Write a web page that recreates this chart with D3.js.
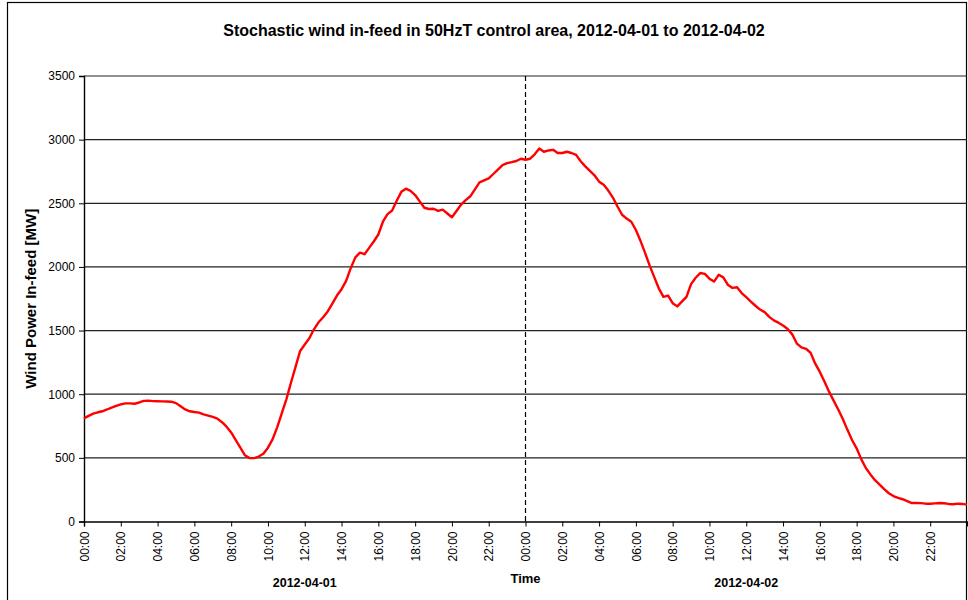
<!DOCTYPE html>
<html>
<head>
<meta charset="utf-8">
<script src="https://cdn.jsdelivr.net/npm/d3@7"></script>
<style>
  html, body { margin: 0; padding: 0; background: #fff; }
  svg { display: block; font-family: "Liberation Sans", Arial, sans-serif; }
</style>
</head>
<body>
<svg id="chart" width="968" height="600"></svg>
<script>
// Quarter-hourly wind in-feed [MW], 2012-04-01 00:00 through 2012-04-03 00:00
const day1MW = [
  810, 830, 848, 858,   866, 880, 895, 908,   920, 928, 928, 925,   935, 948, 950, 946,
  945, 944, 943, 941,   930, 905, 880, 866,   860, 855, 842, 832,   822, 808, 780, 745,
  700, 640, 580, 520,   498, 498, 510, 532,   580, 645, 740, 850,   960, 1090, 1215, 1340,
  1390, 1440, 1510, 1565, 1605, 1650, 1712, 1775, 1825, 1890, 1990, 2075, 2112, 2100, 2150, 2200,
  2255, 2355, 2415, 2443, 2520, 2590, 2615, 2598, 2565, 2515, 2465, 2455, 2457, 2440, 2450, 2420,
  2390, 2440, 2490, 2525, 2555, 2610, 2665, 2680, 2695, 2730, 2765, 2800, 2815, 2823, 2832, 2850
];
const day2MW = [
  2842, 2850, 2885, 2930, 2905, 2915, 2920, 2895, 2895, 2905, 2895, 2880, 2830, 2790, 2755, 2720,
  2670, 2645, 2600, 2545, 2475, 2410, 2380, 2355, 2290, 2205, 2110, 2010, 1920, 1830, 1765, 1775,
  1715, 1690, 1728, 1765, 1865, 1915, 1952, 1945, 1908, 1885, 1938, 1918, 1860, 1835, 1840, 1795,
  1762, 1728, 1695, 1665, 1645, 1608, 1580, 1562, 1540, 1512, 1470, 1398, 1368, 1357, 1325, 1240,
  1175, 1100, 1020, 950,  880, 805, 720, 640,   575, 490, 420, 370,   325, 290, 255, 222,
  200, 185, 175, 160,   145, 145, 144, 140,   139, 142, 145, 143,   138, 136, 140, 138
];
const endMW = [133];

const dayLabels = ["2012-04-01", "2012-04-02"];
const hourLabels = ["00:00","02:00","04:00","06:00","08:00","10:00","12:00","14:00","16:00","18:00","20:00","22:00"];
const yTicks = [0, 500, 1000, 1500, 2000, 2500, 3000, 3500];

const titleText = "Stochastic wind in-feed in 50HzT control area, 2012-04-01 to 2012-04-02";
const yTitle = "Wind Power In-feed [MW]";
const xTitle = "Time";

const series = day1MW.concat(day2MW, endMW).map((v, i) => ({ h: i * 0.25, v }));

const svg = d3.select("#chart");
const plot = { left: 84, right: 967, top: 76, bottom: 521.5 };

const x = d3.scaleLinear().domain([0, 48]).range([plot.left, plot.right]);
const y = d3.scaleLinear().domain([0, 3500]).range([plot.bottom, plot.top]);

// outer frame
svg.append("rect")
  .attr("x", 7.5).attr("y", 2.5).attr("width", 959).attr("height", 620)
  .attr("fill", "none").attr("stroke", "#000").attr("stroke-width", 1.2);

// title
svg.append("text")
  .attr("x", 494).attr("y", 36)
  .attr("text-anchor", "middle")
  .attr("font-size", 16).attr("font-weight", "bold")
  .text(titleText);

// horizontal gridlines
svg.append("g").selectAll("line")
  .data(yTicks.filter(d => d > 0))
  .join("line")
  .attr("x1", plot.left).attr("x2", plot.right)
  .attr("y1", d => y(d)).attr("y2", d => y(d))
  .attr("stroke", "#222").attr("stroke-width", 1.2);

// y axis
const yAxis = d3.axisLeft(y).tickValues(yTicks).tickSize(5).tickPadding(4).tickFormat(d3.format("d"));
const gy = svg.append("g").attr("transform", `translate(${plot.left},0)`).call(yAxis);
gy.select(".domain").attr("stroke", "#000").attr("stroke-width", 1.4);
gy.selectAll(".tick line").attr("stroke", "#000");
gy.selectAll(".tick text").attr("font-size", 12).attr("font-family", null).attr("fill", "#000");

// x axis: ticks every two hours across both days
const tickHours = d3.range(0, 48, 2);
const xAxis = d3.axisBottom(x).tickValues(tickHours).tickSize(5)
  .tickFormat(h => hourLabels[(h % 24) / 2]);
const gx = svg.append("g").attr("transform", `translate(0,${plot.bottom})`).call(xAxis);
gx.select(".domain").attr("stroke", "#000").attr("stroke-width", 1.4);
gx.selectAll(".tick line").attr("stroke", "#000");
gx.selectAll(".tick text")
  .attr("font-size", 12).attr("font-family", null).attr("fill", "#000")
  .attr("transform", "rotate(-90)")
  .attr("text-anchor", "end")
  .attr("x", -10).attr("y", 0).attr("dy", "0.35em");

// day separator
svg.append("line")
  .attr("x1", x(24)).attr("x2", x(24))
  .attr("y1", plot.top).attr("y2", plot.bottom)
  .attr("stroke", "#000").attr("stroke-width", 1.2)
  .attr("stroke-dasharray", "5,3");

// wind in-feed line
svg.append("path")
  .datum(series)
  .attr("fill", "none")
  .attr("stroke", "#ff0000")
  .attr("stroke-width", 2.4)
  .attr("stroke-linejoin", "round")
  .attr("d", d3.line().x(d => x(d.h)).y(d => y(d.v)));

// axis titles
svg.append("text")
  .attr("transform", `translate(36,${(plot.top + plot.bottom) / 2}) rotate(-90)`)
  .attr("text-anchor", "middle")
  .attr("font-size", 15).attr("font-weight", "bold")
  .text(yTitle);

svg.append("text")
  .attr("x", x(24)).attr("y", 583)
  .attr("text-anchor", "middle")
  .attr("font-size", 13).attr("font-weight", "bold")
  .text(xTitle);

svg.append("g").selectAll("text")
  .data(dayLabels)
  .join("text")
  .attr("x", (d, i) => x(i * 24 + 12))
  .attr("y", 587)
  .attr("text-anchor", "middle")
  .attr("font-size", 12.5).attr("font-weight", "bold")
  .text(d => d);
</script>
</body>
</html>
